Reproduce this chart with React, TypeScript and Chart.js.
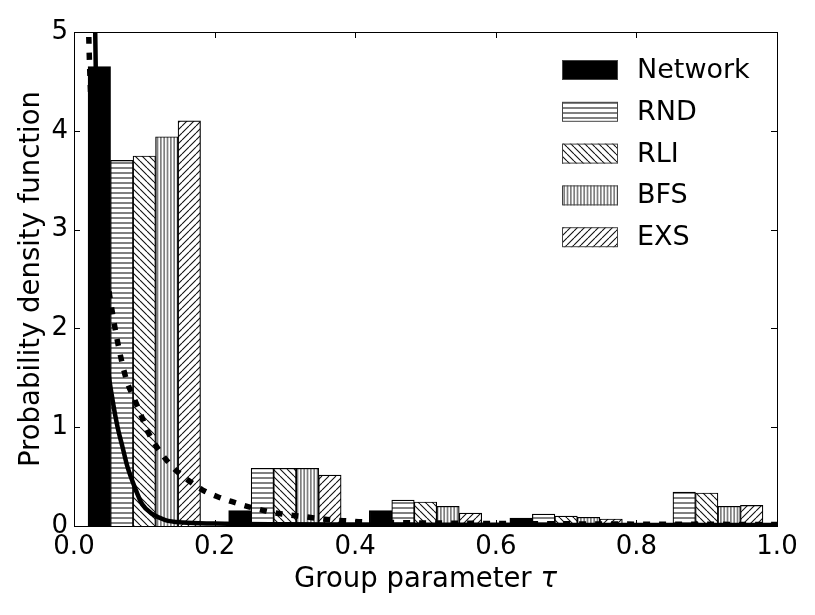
import { useEffect, useRef } from 'react';
import { Chart, registerables, Plugin } from 'chart.js';

Chart.register(...registerables);

// histogram bins (0.2 wide), bar heights
const binCenters = [0.1, 0.3, 0.5, 0.7, 0.9];
const seriesNames = ['Network', 'RND', 'RLI', 'BFS', 'EXS'];
const network = [4.65, 0.155, 0.155, 0.081, 0.0];
const rnd = [3.7, 0.584, 0.263, 0.121, 0.344];
const rli = [3.745, 0.584, 0.243, 0.101, 0.334];
const bfs = [3.94, 0.584, 0.199, 0.088, 0.199];
const exs = [4.1, 0.516, 0.13, 0.071, 0.209];

// fitted curves
const solidX = [0.029, 0.031, 0.035, 0.04, 0.048, 0.055, 0.062, 0.069, 0.076, 0.086, 0.097, 0.112, 0.13, 0.155, 0.2, 0.3, 0.4, 0.5, 0.6, 0.7, 0.8, 0.9, 1.0];
const solidY = [5.6, 4.6, 3.4, 2.5, 1.62, 1.27, 1.0, 0.8, 0.6, 0.4, 0.22, 0.12, 0.06, 0.035, 0.025, 0.018, 0.015, 0.013, 0.012, 0.011, 0.01, 0.01, 0.01];
const dottedX = [0.019, 0.022, 0.03, 0.04, 0.048, 0.061, 0.075, 0.085, 0.095, 0.104, 0.115, 0.129, 0.144, 0.164, 0.183, 0.205, 0.226, 0.25, 0.273, 0.296, 0.321, 0.343, 0.368, 0.39, 0.411, 0.45, 0.55, 0.65, 0.75, 0.85, 1.0];
const dottedY = [5.6, 4.7, 3.5, 2.8, 2.45, 1.9, 1.47, 1.3, 1.13, 0.97, 0.83, 0.69, 0.57, 0.455, 0.364, 0.294, 0.243, 0.192, 0.152, 0.121, 0.1, 0.081, 0.061, 0.051, 0.042, 0.035, 0.028, 0.024, 0.02, 0.018, 0.015];

const xTicks = [0, 0.2, 0.4, 0.6, 0.8, 1.0];
const yTicks = [0, 1, 2, 3, 4, 5];

const FONT = 'DejaVu Sans';

function makePattern(kind: string): CanvasPattern | string {
  if (kind === 'solid') return '#000';
  const c = document.createElement('canvas');
  const g = c.getContext('2d')!;
  if (kind === 'h') {
    c.width = 5; c.height = 5;
    g.fillStyle = '#fff'; g.fillRect(0, 0, 5, 5);
    g.fillStyle = '#808080'; g.fillRect(0, 2, 5, 2);
  } else if (kind === 'v') {
    c.width = 10; c.height = 10;
    g.fillStyle = '#fff'; g.fillRect(0, 0, 10, 10);
    g.fillStyle = '#808080';
    for (let i = 0; i < 3; i++) g.fillRect(i * 10 / 3, 0, 1.7, 10);
  } else {
    const s = 7;
    c.width = s; c.height = s;
    g.fillStyle = '#fff'; g.fillRect(0, 0, s, s);
    g.strokeStyle = '#111'; g.lineWidth = 1.1;
    g.beginPath();
    for (let k = -1; k <= 1; k++) {
      if (kind === 'b') { g.moveTo(k * s, 0); g.lineTo(k * s + s, s); }
      else { g.moveTo(k * s, s); g.lineTo(k * s + s, 0); }
    }
    g.stroke();
  }
  return g.createPattern(c, 'repeat')!;
}

const frameAndTicks: Plugin = {
  id: 'frameAndTicks',
  afterDraw(chart) {
    const { ctx, chartArea: a, scales } = chart;
    ctx.save();
    ctx.strokeStyle = '#000';
    ctx.lineWidth = 1;
    ctx.beginPath();
    for (const v of yTicks) {
      const y = Math.round(scales.y.getPixelForValue(v)) + 0.5;
      ctx.moveTo(a.left, y); ctx.lineTo(a.left + 6, y);
      ctx.moveTo(a.right, y); ctx.lineTo(a.right - 6, y);
    }
    for (const v of xTicks) {
      const x = Math.round(scales.x.getPixelForValue(v)) + 0.5;
      ctx.moveTo(x, a.bottom); ctx.lineTo(x, a.bottom - 6);
      ctx.moveTo(x, a.top); ctx.lineTo(x, a.top + 6);
    }
    ctx.stroke();
    ctx.strokeRect(Math.round(a.left) + 0.5, Math.round(a.top) + 0.5, Math.round(a.right - a.left), Math.round(a.bottom - a.top));

    // axis titles
    const ts = 27.5;
    ctx.fillStyle = '#000';
    ctx.textBaseline = 'alphabetic';
    const main = 'Group parameter ';
    ctx.font = `${ts}px "${FONT}"`;
    const w1 = ctx.measureText(main).width;
    ctx.font = `oblique ${ts}px "${FONT}"`;
    const w2 = ctx.measureText('τ').width;
    const cx = (a.left + a.right) / 2;
    const x0 = cx - (w1 + w2) / 2;
    ctx.textAlign = 'left';
    ctx.font = `${ts}px "${FONT}"`;
    ctx.fillText(main, x0, 587);
    ctx.font = `oblique ${ts}px "${FONT}"`;
    ctx.fillText('τ', x0 + w1, 587);

    ctx.save();
    ctx.translate(39, (a.top + a.bottom) / 2);
    ctx.rotate(-Math.PI / 2);
    ctx.textAlign = 'center';
    ctx.font = `${ts}px "${FONT}"`;
    ctx.fillText('Probability density function', 0, 0);
    ctx.restore();

    // legend
    const bx = a.right - 215;
    const by = a.top + 28;
    ctx.font = `27px "${FONT}"`;
    ctx.textAlign = 'left';
    ctx.textBaseline = 'middle';
    chart.data.datasets.forEach((ds: any, i: number) => {
      if (ds.type === 'line') return;
      const y = by + i * 41.8;
      ctx.fillStyle = ds.backgroundColor;
      ctx.fillRect(bx, y, 56, 20);
      ctx.strokeStyle = '#444';
      ctx.lineWidth = 1;
      ctx.strokeRect(bx + 0.5, y + 0.5, 55, 19);
      ctx.fillStyle = '#000';
      ctx.fillText(ds.label, bx + 75, y + 11);
    });
    ctx.restore();
  },
};

export default function App() {
  const canvasRef = useRef<HTMLCanvasElement | null>(null);

  useEffect(() => {
    if (!canvasRef.current) return;
    const fills = ['solid', 'h', 'b', 'v', 'f'].map(makePattern);
    const series = [network, rnd, rli, bfs, exs];
    const nx = series.length;
    const binWidth = 0.2;
    const barW = (0.8 * binWidth) / nx;

    const barSets = series.map((vals, i) => ({
      type: 'bar' as const,
      label: seriesNames[i],
      data: vals.map((v, j) => ({ x: binCenters[j] + (i - (nx - 1) / 2) * barW, y: v })),
      backgroundColor: fills[i],
      borderColor: '#000',
      borderWidth: 1.2,
      grouped: false,
      barPercentage: 1,
      categoryPercentage: 1,
      order: 2,
    }));

    const chart = new Chart(canvasRef.current, {
      type: 'bar',
      data: {
        datasets: [
          ...barSets,
          {
            type: 'line',
            label: 'fit',
            data: solidX.map((x, i) => ({ x, y: solidY[i] })),
            borderColor: '#000',
            borderWidth: 4.5,
            pointRadius: 0,
            fill: false,
            cubicInterpolationMode: 'monotone',
            order: 1,
          },
          {
            type: 'line',
            label: 'fit2',
            data: dottedX.map((x, i) => ({ x, y: dottedY[i] })),
            borderColor: '#000',
            borderWidth: 5.5,
            borderDash: [7, 9],
            pointRadius: 0,
            fill: false,
            cubicInterpolationMode: 'monotone',
            order: 1,
          },
        ] as any,
      },
      options: {
        animation: false,
        responsive: false,
        devicePixelRatio: 1,
        layout: { padding: { left: 0, top: 32, right: 38, bottom: 0 } },
        plugins: { legend: { display: false }, tooltip: { enabled: false } },
        scales: {
          x: {
            type: 'linear',
            min: 0,
            max: 1,
            offset: false,
            grid: { display: false, offset: false, drawTicks: false },
            border: { display: false },
            afterFit: (s: any) => { s.height = 89; },
            afterBuildTicks: (s: any) => { s.ticks = xTicks.map((v) => ({ value: v })); },
            ticks: {
              padding: 6,
              color: '#000',
              font: { family: FONT, size: 26 },
              callback: (v: any) => Number(v).toFixed(1),
            },
          },
          y: {
            min: 0,
            max: 5,
            grid: { display: false, drawTicks: false },
            border: { display: false },
            afterFit: (s: any) => { s.width = 74; },
            afterBuildTicks: (s: any) => { s.ticks = yTicks.map((v) => ({ value: v })); },
            ticks: {
              padding: 6,
              color: '#000',
              font: { family: FONT, size: 26 },
              callback: (v: any) => String(v),
            },
          },
        },
      },
      plugins: [frameAndTicks],
    });

    return () => chart.destroy();
  }, []);

  return (
    <div style={{ position: 'fixed', left: 0, top: 0, width: 815, height: 615, background: '#fff' }}>
      <canvas ref={canvasRef} width={815} height={615} />
    </div>
  );
}
